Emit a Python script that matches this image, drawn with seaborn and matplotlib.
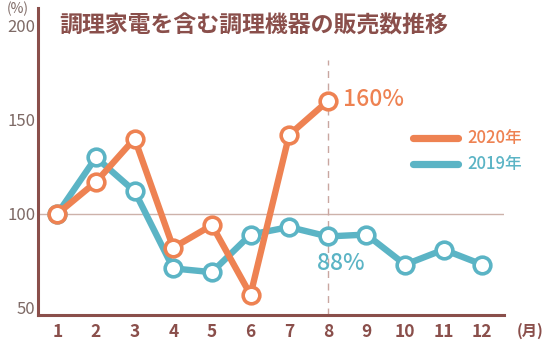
import matplotlib
matplotlib.use("Agg")
import matplotlib.pyplot as plt
import seaborn as sns
import pandas as pd

months = [1, 2, 3, 4, 5, 6, 7, 8, 9, 10, 11, 12]
sales_2020 = [100, 117, 140, 82, 94, 57, 142, 160]
sales_2019 = [100, 130, 112, 71, 69, 89, 93, 88, 89, 73, 81, 73]
y_ticks = [50, 100, 150, 200]
title = "調理家電を含む調理機器の販売数推移"
label_2020 = "2020年"
label_2019 = "2019年"

ORANGE = "#EE8252"
BLUE = "#5BB4C5"
BROWN = "#8A4F4B"
GREY = "#7E6A66"

sns.set_theme(style="white")
plt.rcParams["font.family"] = ["Noto Sans CJK JP", "DejaVu Sans"]

df = pd.concat([
    pd.DataFrame({"month": months, "value": sales_2019, "year": label_2019}),
    pd.DataFrame({"month": months[:len(sales_2020)], "value": sales_2020, "year": label_2020}),
])

fig = plt.figure(figsize=(5.51, 3.46), dpi=100)
ax = fig.add_axes([0.069, 0.090, 0.845, 0.887])

ax.axhline(100, color="#CDB2AA", lw=1.0, zorder=1)
ax.plot([8, 8], [46.3, 182], color="#C9A6A0", lw=1.0, ls=(0, (5, 4)), zorder=1)

for lab, col, z in [(label_2019, BLUE, 3), (label_2020, ORANGE, 4)]:
    sub = df[df["year"] == lab]
    sns.lineplot(data=sub, x="month", y="value", ax=ax, color=col, lw=4.6,
                 marker="o", markersize=12, markerfacecolor="white",
                 markeredgecolor=col, markeredgewidth=2.6, zorder=z,
                 legend=False)

ax.set_xlim(0.5, 12.55)
ax.set_ylim(46.3, 209.5)
ax.set_xticks(months)
ax.set_xticklabels([str(m) for m in months], fontsize=12.5, fontweight="bold", color=BROWN)
ax.set_yticks(y_ticks)
ax.set_yticklabels([str(v) for v in y_ticks], fontsize=12, color=GREY)
ax.tick_params(axis="x", direction="in", length=7, width=1.2, color=BROWN, pad=6)
ax.tick_params(axis="y", direction="in", length=8, width=1.2, color=BROWN, pad=2)
ax.set_xlabel("")
ax.set_ylabel("")

for s in ["top", "right"]:
    ax.spines[s].set_visible(False)
for s in ["left", "bottom"]:
    ax.spines[s].set_color(BROWN)
    ax.spines[s].set_linewidth(2.2)

# legend (manual lines)
ax.plot([10.2, 11.38], [140.5, 140.5], color=ORANGE, lw=5.2, solid_capstyle="round",
        clip_on=False)
ax.plot([10.2, 11.38], [126.5, 126.5], color=BLUE, lw=5.2, solid_capstyle="round",
        clip_on=False)
ax.text(11.6, 140.5, label_2020, color=ORANGE, fontsize=12, fontweight="medium",
        va="center", ha="left")
ax.text(11.6, 126.5, label_2019, color=BLUE, fontsize=12, fontweight="medium",
        va="center", ha="left")

ax.text(8.39, 161, "160%", color=ORANGE, fontsize=16.5, fontweight="medium",
        va="center", ha="left")
ax.text(7.72, 73.5, "88%", color=BLUE, fontsize=16.5, fontweight="medium",
        va="center", ha="left")

fig.text(0.108, 0.925, title, color=BROWN, fontsize=16.5, fontweight="bold",
         va="center", ha="left")
fig.text(0.013, 0.975, "(%)", color=GREY, fontsize=10, va="center", ha="left")
fig.text(0.938, 0.045, "(月)", color=BROWN, fontsize=11, fontweight="bold",
         va="center", ha="left")

fig.savefig("out.png", dpi=100)
